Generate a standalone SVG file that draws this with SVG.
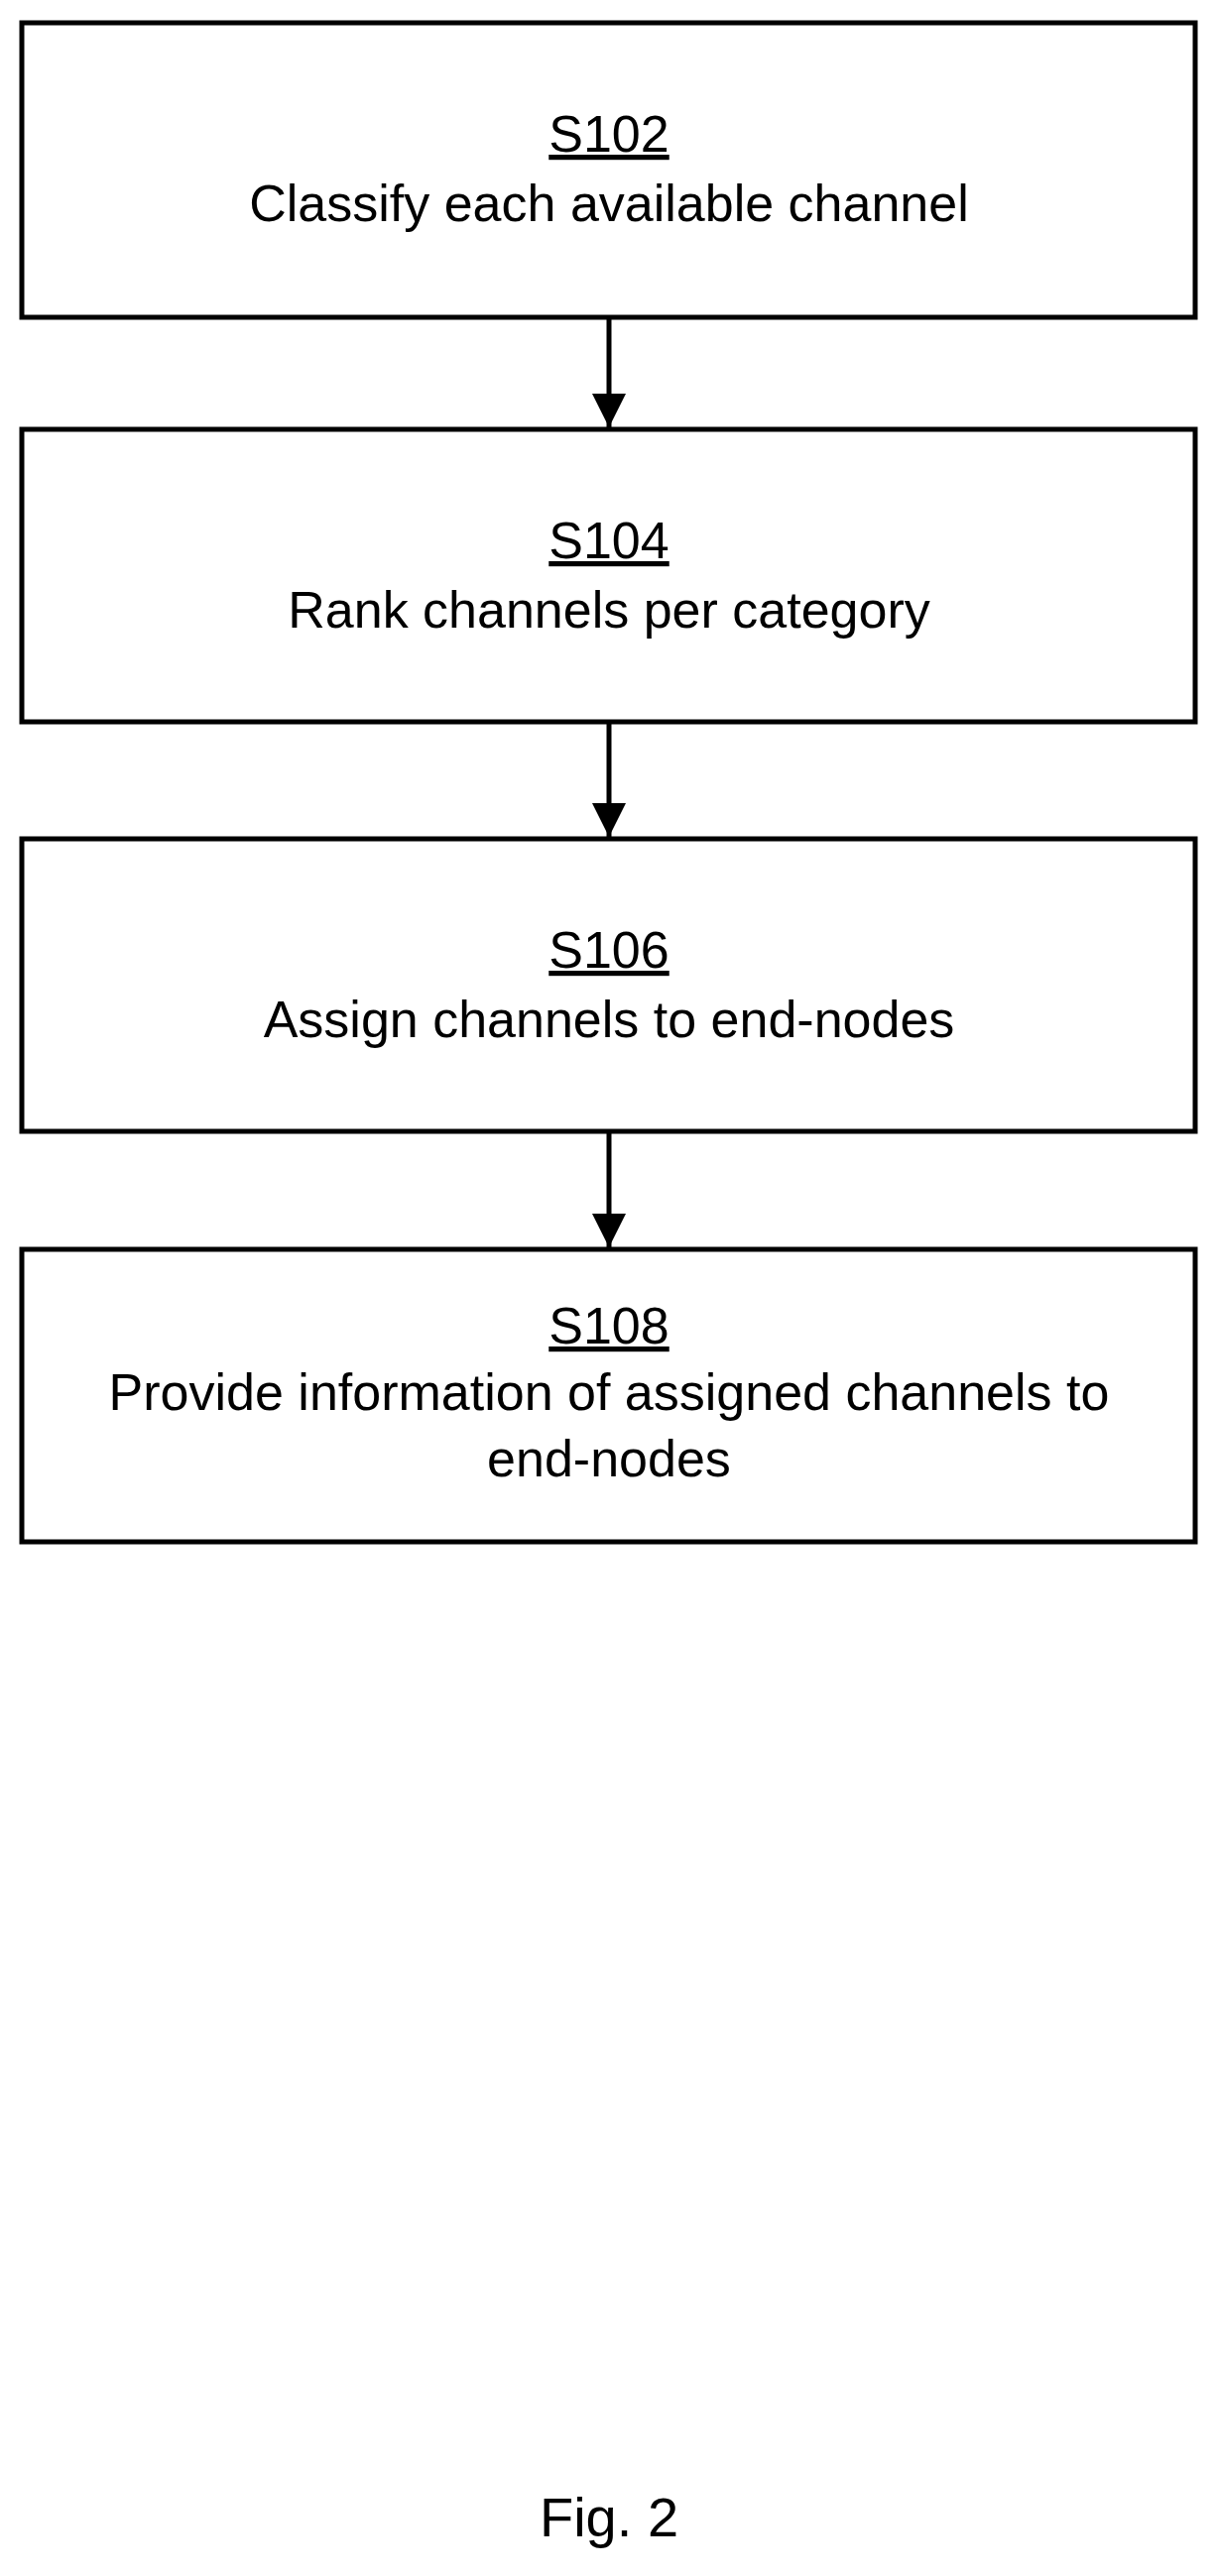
<svg xmlns="http://www.w3.org/2000/svg" width="1228" height="2598" viewBox="0 0 1228 2598">
<style>
.b{fill:#fff;stroke:#000;stroke-width:5}
.t{font-family:"Liberation Sans",Arial,sans-serif;font-size:52px;text-anchor:middle;fill:#000}
.c{stroke:#000;stroke-width:5;fill:none}
</style>
<defs><marker id="a" markerUnits="userSpaceOnUse" markerWidth="34" markerHeight="50" refX="34" refY="17" orient="auto" viewBox="0 0 34 50"><path d="M0,0 L34,17 L0,34 Z" transform="translate(0,0)" fill="#000"/></marker></defs>
<rect width="1228" height="2598" fill="#fff"/>
<g id="s102"><rect class="b" x="22" y="23" width="1183" height="297"/><text class="t" x="614" y="153" text-decoration="underline">S102</text><text class="t" x="614" y="223">Classify each available channel</text></g>
<g id="s104"><rect class="b" x="22" y="433" width="1183" height="295"/><text class="t" x="614" y="563" text-decoration="underline">S104</text><text class="t" x="614" y="633">Rank channels per category</text></g>
<g id="s106"><rect class="b" x="22" y="846" width="1183" height="295"/><text class="t" x="614" y="976" text-decoration="underline">S106</text><text class="t" x="614" y="1046">Assign channels to end-nodes</text></g>
<g id="s108"><rect class="b" x="22" y="1260" width="1183" height="295"/><text class="t" x="614" y="1355" text-decoration="underline">S108</text><text class="t" x="614" y="1422">Provide information of assigned channels to</text><text class="t" x="614" y="1489">end-nodes</text></g>
<g id="connectors">
<line class="c" x1="614" y1="320" x2="614" y2="431" marker-end="url(#a)"/>
<line class="c" x1="614" y1="728" x2="614" y2="844" marker-end="url(#a)"/>
<line class="c" x1="614" y1="1141" x2="614" y2="1258" marker-end="url(#a)"/>
</g>
<text class="t" x="614" y="2558" style="font-size:56px">Fig. 2</text>
</svg>
